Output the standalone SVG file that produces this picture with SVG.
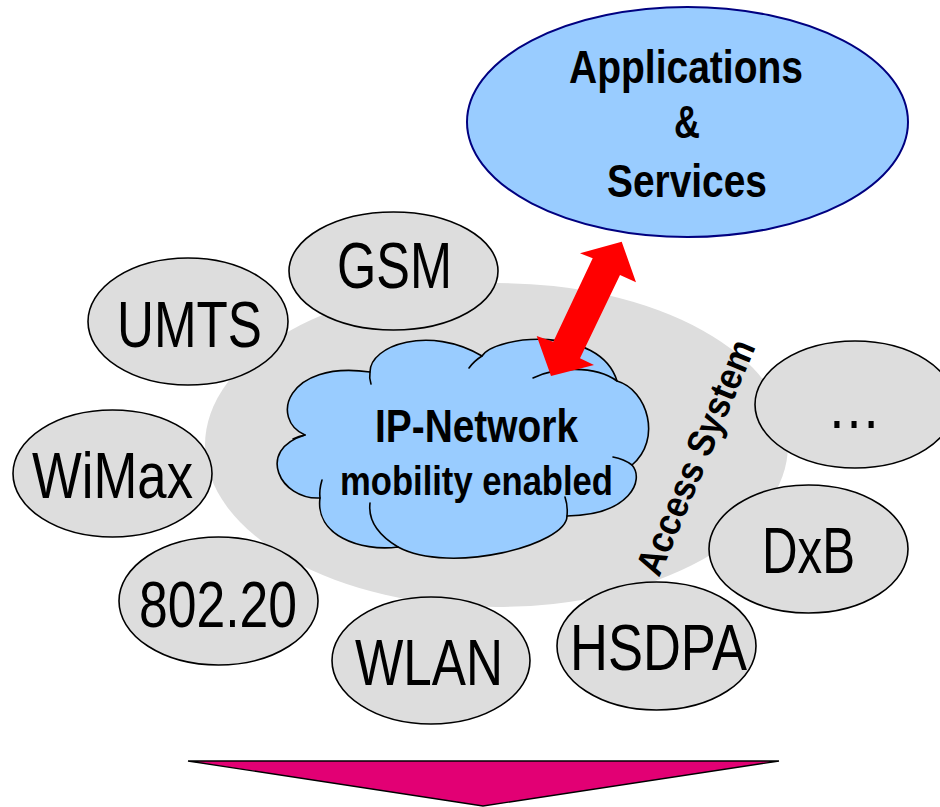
<svg xmlns="http://www.w3.org/2000/svg" width="940" height="807" viewBox="0 0 940 807">
<style>
  .bg { fill: #DDDDDD; stroke: none; }
  .acc { fill: #DDDDDD; stroke: #000000; stroke-width: 1.6; }
  .lbl { font-family: "Liberation Sans", Arial, sans-serif; font-size: 65px; fill: #000; text-anchor: middle; }
  .bold { font-family: "Liberation Sans", Arial, sans-serif; font-weight: bold; fill: #000; text-anchor: middle; }
  .cloud { fill: #99CCFF; stroke: #000; stroke-width: 1.6; stroke-linejoin: round; }
  .inner { fill: none; stroke: #000; stroke-width: 1.6; stroke-linecap: round; }
</style>
<rect x="0" y="0" width="940" height="807" fill="#FFFFFF"/>

<g id="access-system-area">
  <ellipse class="bg" cx="496.5" cy="445" rx="291.5" ry="162"/>
</g>

<g id="node-gsm">
  <ellipse class="acc" cx="393.5" cy="271" rx="104.5" ry="59"/>
  <text class="lbl" x="394.5" y="288" textLength="115" lengthAdjust="spacingAndGlyphs">GSM</text>
</g>
<g id="node-umts">
  <ellipse class="acc" cx="188" cy="321.5" rx="100" ry="63.5"/>
  <text class="lbl" x="189.5" y="347" textLength="145" lengthAdjust="spacingAndGlyphs">UMTS</text>
</g>
<g id="node-wimax">
  <ellipse class="acc" cx="112.5" cy="473.5" rx="99.5" ry="63.5"/>
  <text class="lbl" x="112.5" y="498" textLength="161" lengthAdjust="spacingAndGlyphs">WiMax</text>
</g>
<g id="node-80220">
  <ellipse class="acc" cx="218.5" cy="601" rx="99.5" ry="64"/>
  <text class="lbl" x="218" y="627" textLength="158" lengthAdjust="spacingAndGlyphs">802.20</text>
</g>
<g id="node-wlan">
  <ellipse class="acc" cx="431" cy="660.5" rx="99" ry="63.5"/>
  <text class="lbl" x="429" y="685" textLength="148" lengthAdjust="spacingAndGlyphs">WLAN</text>
</g>
<g id="node-hsdpa">
  <ellipse class="acc" cx="656.5" cy="646" rx="99.5" ry="64"/>
  <text class="lbl" x="658.5" y="670" textLength="177" lengthAdjust="spacingAndGlyphs">HSDPA</text>
</g>
<g id="node-dxb">
  <ellipse class="acc" cx="808.5" cy="549" rx="99.5" ry="64"/>
  <text class="lbl" x="808.5" y="573" textLength="93" lengthAdjust="spacingAndGlyphs">DxB</text>
</g>
<g id="node-more">
  <ellipse class="acc" cx="855" cy="404.5" rx="100" ry="63.5"/>
  <text class="lbl" x="854" y="428" textLength="54" lengthAdjust="spacingAndGlyphs">…</text>
</g>

<g id="node-ip-network">
  <path class="cloud" d="M305,435 C270,420 285,360 370,372 C370,345 430,325 482,356 C495,335 600,325 617,381 C648,390 662,440 632,465 C645,480 630,515 567,516 C567,545 450,575 398,547 C360,552 315,535 320,498 C280,500 255,450 305,435 Z"/>
  <path class="inner" d="M370,372 Q369,378 371,384"/>
  <path class="inner" d="M482,356 Q474,361 469,368"/>
  <path class="inner" d="M533,378 C555,367 595,365 617,381"/>
  <path class="inner" d="M613,457 Q624,459 632,465"/>
  <path class="inner" d="M565,497 Q568,506 567,516"/>
  <path class="inner" d="M398,547 C378,535 368,520 370,503"/>
  <path class="inner" d="M322,480 Q319,490 320,498"/>
  <path class="inner" d="M293,439 Q299,436 305,435"/>
  <text class="bold" x="476.5" y="442" font-size="47" textLength="203" lengthAdjust="spacingAndGlyphs">IP-Network</text>
  <text class="bold" x="476.5" y="495" font-size="40" textLength="273" lengthAdjust="spacingAndGlyphs">mobility enabled</text>
</g>

<g id="node-applications">
  <ellipse cx="687.5" cy="122" rx="220.5" ry="115" fill="#99CCFF" stroke="#000080" stroke-width="2"/>
  <text class="bold" x="686" y="83" font-size="46" textLength="234" lengthAdjust="spacingAndGlyphs">Applications</text>
  <text class="bold" x="687" y="138" font-size="46" textLength="26" lengthAdjust="spacingAndGlyphs">&amp;</text>
  <text class="bold" x="687" y="197" font-size="46" textLength="160" lengthAdjust="spacingAndGlyphs">Services</text>
</g>

<g id="connectors">
  <polygon points="621.7,241.7 636,282.3 620,275 580,358.3 594,365 551,376 536.7,336 553.3,341.7 592.7,258.3 580,253.3" fill="#FF0000" stroke="none"/>
</g>

<g id="label-access-system">
  <text class="bold" font-size="38" style="text-anchor:start" x="0" y="0" transform="translate(659,578) rotate(-67.3)" textLength="251" lengthAdjust="spacingAndGlyphs">Access System</text>
</g>

<g id="bottom-arrow">
  <polygon points="188,761 779,761 483,806" fill="#E20074" stroke="#000" stroke-width="1.4" stroke-linejoin="miter"/>
</g>
</svg>
